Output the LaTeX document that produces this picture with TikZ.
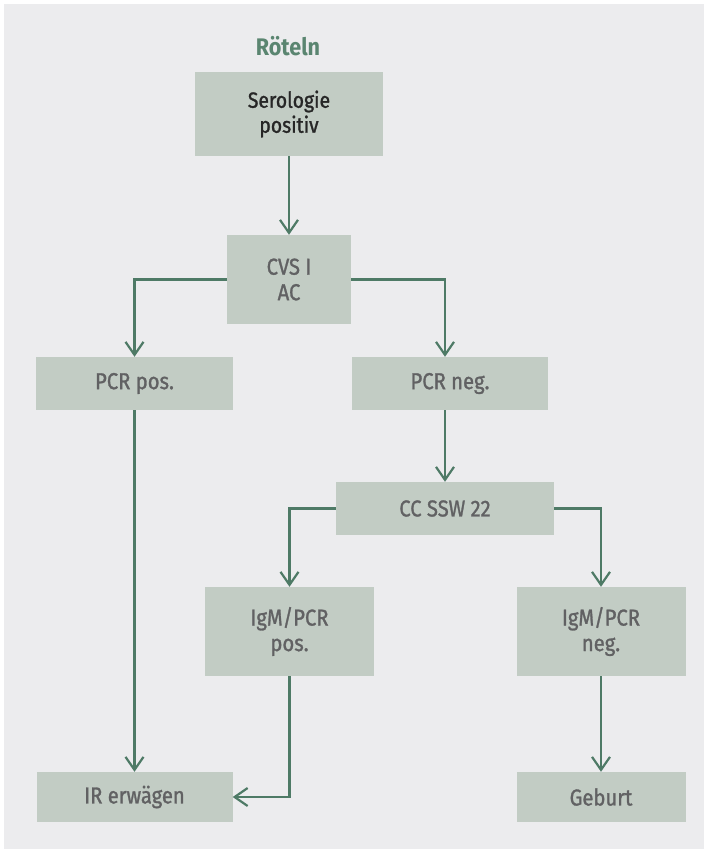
\documentclass[tikz,border=0pt]{standalone}
\usepackage{fontspec}
\setmainfont[FakeStretch=0.88,FakeBold=1.2]{Fira Sans}
\newfontfamily\headfont[FakeStretch=0.9]{Fira Sans}
\usetikzlibrary{arrows.meta}
\definecolor{bgcol}{HTML}{ECECEE}
\definecolor{boxcol}{HTML}{C2CCC4}
\definecolor{txtcol}{HTML}{616163}
\definecolor{arrcol}{HTML}{4E7A66}
\definecolor{headcol}{HTML}{5A8570}
\tikzset{
  box/.style={fill=boxcol, inner sep=0pt, align=center, text=txtcol,
    font=\fontsize{23}{25.5}\selectfont},
  arr/.style={draw=arrcol, line width=2.3pt,
    -{Straight Barb[length=13pt,width=18pt,line width=2.2pt]}}
}
\begin{document}
\begin{tikzpicture}[x=1pt,y=-1pt]
\useasboundingbox (0,0) rectangle (704,849);
\fill[bgcol] (4,4) rectangle (704,849);
\node[text=headcol, font=\headfont\fontsize{24}{26}\selectfont\bfseries] (head) at (288,46) {Röteln};
\node[box, text=black!85, font=\fontsize{22}{25}\selectfont, minimum width=188pt, minimum height=84pt] (ser) at (289,114) {Serologie\\positiv};
\node[box, minimum width=124pt, minimum height=89pt] (cvs) at (289,279.5) {CVS I\\AC};
\node[box, minimum width=197pt, minimum height=53pt] (pcrpos) at (134.5,383.5) {PCR pos.};
\node[box, minimum width=196pt, minimum height=53pt] (pcrneg) at (450,383.5) {PCR neg.};
\node[box, minimum width=218pt, minimum height=53pt] (ccssw) at (445,508.5) {CC SSW 22};
\node[box, minimum width=169pt, minimum height=89pt] (igmpos) at (289.5,631.5) {IgM/PCR\\pos.};
\node[box, minimum width=169pt, minimum height=89pt] (igmneg) at (601,631.5) {IgM/PCR\\neg.};
\node[box, minimum width=196pt, minimum height=50pt] (ir) at (134.5,797) {IR erwägen};
\node[box, minimum width=169pt, minimum height=50pt] (geburt) at (601,797) {Geburt};
% connectors
\draw[arr] (ser) -- (cvs);
\draw[arr] (cvs.west) -| (pcrpos.north);
\draw[arr] (cvs.east) -| (ccssw |- pcrneg.north);
\draw[arr] (ccssw |- pcrneg.south) -- (ccssw.north);
\draw[arr] (ccssw.west) -| (igmpos.north);
\draw[arr] (ccssw.east) -| (igmneg.north);
\draw[arr] (pcrpos) -- (ir);
\draw[arr] (igmpos.south) |- (ir.east);
\draw[arr] (igmneg) -- (geburt);
\end{tikzpicture}
\end{document}
